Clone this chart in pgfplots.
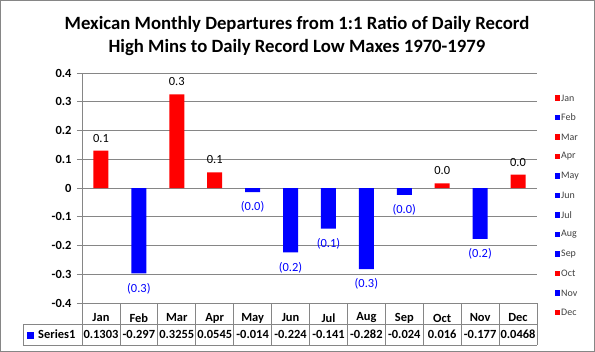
\documentclass[border=0pt]{standalone}
\usepackage{fontspec}
\setmainfont{Carlito}
\usepackage{pgfplots}
\pgfplotsset{compat=1.18}
\definecolor{xred}{RGB}{255,0,0}
\definecolor{xblue}{RGB}{0,0,255}
\definecolor{gridgray}{RGB}{134,134,134}
\definecolor{legtext}{RGB}{64,64,64}
\begin{document}
\begin{tikzpicture}
\useasboundingbox (-82bp,-49bp) rectangle (513bp,303bp);
\draw[gridgray, line width=1.2bp] (-81.4bp,-48.4bp) rectangle (512.4bp,302.4bp);
\begin{axis}[
  at={(0,0)}, anchor=south west,
  scale only axis, width=455bp, height=230bp,
  xmin=0.5, xmax=12.5, ymin=-0.4, ymax=0.4,
  clip=false,
  axis x line*=bottom, axis y line*=left,
  axis line style={gridgray, line width=0.8bp},
  ytick={-0.4,-0.3,-0.2,-0.1,0,0.1,0.2,0.3,0.4},
  yticklabels={-0.4,-0.3,-0.2,-0.1,0,0.1,0.2,0.3,0.4},
  ymajorgrids, grid style={gridgray, line width=0.8bp},
  ytick style={gridgray, line width=0.8bp},
  tick align=outside, major tick length=5bp,
  yticklabel style={font=\bfseries\fontsize{12.5}{14}\selectfont, xshift=-2bp},
  xtick={1,...,12},
  xticklabels={Jan,Feb,Mar,Apr,May,Jun,Jul,Aug,Sep,Oct,Nov,Dec},
  xtick style={draw=none},
  xticklabel style={font=\bfseries\fontsize{12.5}{14}\selectfont, anchor=center, yshift=-10bp, inner sep=0pt},
  ybar, bar width=15bp, bar shift=0pt,
  point meta=explicit symbolic,
  nodes near coords,
]
\addplot[fill=xred, draw=none,
  nodes near coords style={font=\fontsize{12.5}{14}\selectfont, text=black, anchor=center, inner sep=0pt, yshift=12.5bp}]
  coordinates {(1,0.1303)[0.1] (3,0.3255)[0.3] (4,0.0545)[0.1] (10,0.016)[0.0] (12,0.0468)[0.0]};
\addplot[fill=xblue, draw=none,
  nodes near coords style={font=\fontsize{12.5}{14}\selectfont, text=xblue, anchor=center, inner sep=0pt, yshift=-15bp}]
  coordinates {(2,-0.297)[(0.3)] (5,-0.014)[(0.0)] (6,-0.224)[(0.2)] (7,-0.141)[(0.1)] (8,-0.282)[(0.3)] (9,-0.024)[(0.0)] (11,-0.177)[(0.2)]};
% data table
\pgfplotsinvokeforeach{0.5,1.5,2.5,3.5,4.5,5.5,6.5,7.5,8.5,9.5,10.5,11.5,12.5}{
  \draw[gridgray, line width=0.8bp] (axis cs:#1,-0.4) -- ++(0bp,-42bp);
}
\draw[gridgray, line width=0.8bp] (axis cs:0.5,-0.4) ++(-59bp,-21bp) -- ++(514bp,0bp);
\draw[gridgray, line width=0.8bp] (axis cs:0.5,-0.4) ++(-59bp,-42bp) -- ++(514bp,0bp);
\draw[gridgray, line width=0.8bp] (axis cs:0.5,-0.4) ++(-59bp,-21bp) -- ++(0bp,-21bp);
\fill[xblue] (axis cs:0.5,-0.4) ++(-54.5bp,-28.5bp) rectangle ++(7bp,-7bp);
\node[anchor=west, inner sep=0pt, font=\bfseries\fontsize{12.5}{14}\selectfont] at ([xshift=-44bp,yshift=-31.5bp]axis cs:0.5,-0.4) {Series1};
\pgfplotsforeachungrouped \i/\v in {1/0.1303,2/-0.297,3/0.3255,4/0.0545,5/-0.014,6/-0.224,7/-0.141,8/-0.282,9/-0.024,10/0.016,11/-0.177,12/0.0468}{
  \edef\temp{\noexpand\node[anchor=center, inner sep=0pt, font=\noexpand\bfseries\noexpand\fontsize{12.5}{14}\noexpand\selectfont] at ([yshift=-31.5bp]axis cs:\i,-0.4) {\v};}
  \temp
}
\end{axis}
% title
\node[align=center, font=\bfseries\fontsize{18.8}{24}\selectfont, inner sep=0pt] at (215bp,267bp) {Mexican Monthly Departures from 1:1 Ratio of Daily Record\\High Mins to Daily Record Low Maxes 1970-1979};
% legend
\foreach \m/\c [count=\k from 0] in {Jan/xred,Feb/xblue,Mar/xred,Apr/xred,May/xblue,Jun/xblue,Jul/xblue,Aug/xblue,Sep/xblue,Oct/xred,Nov/xblue,Dec/xred}{
  \fill[\c] (472.5bp,{205bp-\k*19.5bp-2.7bp}) rectangle ++(5.4bp,5.4bp);
  \node[anchor=west, inner sep=0pt, text=legtext, font=\fontsize{10}{11}\selectfont] at (479bp,{205bp-\k*19.5bp}) {\m};
}
\end{tikzpicture}
\end{document}
